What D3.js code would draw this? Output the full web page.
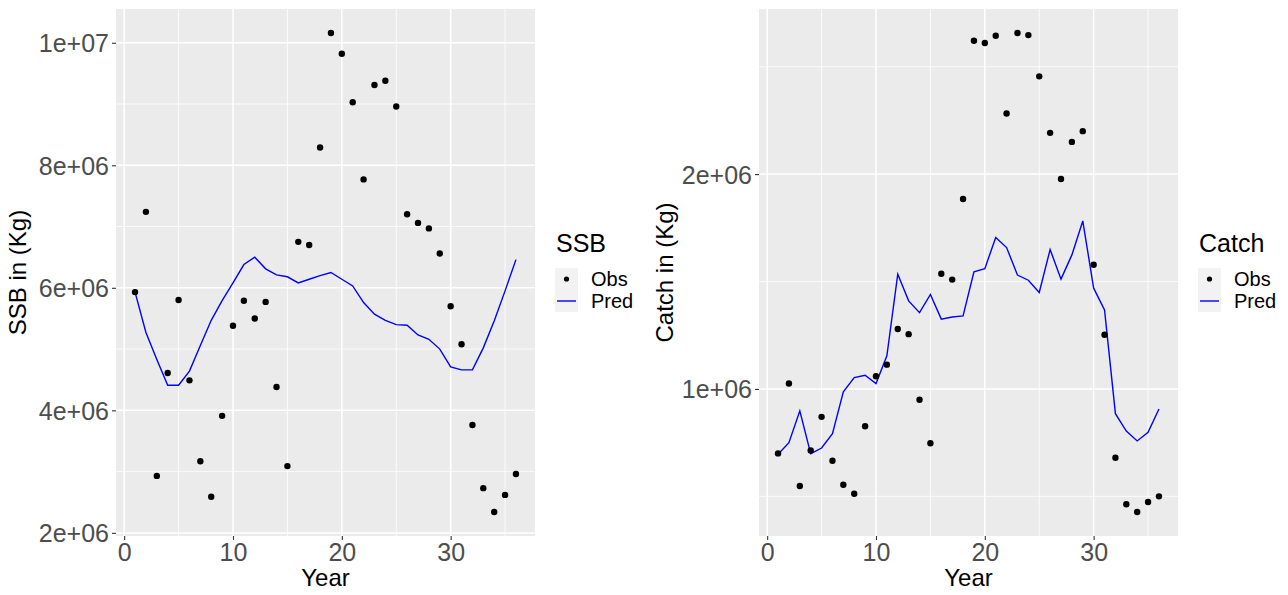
<!DOCTYPE html>
<html>
<head>
<meta charset="utf-8">
<script src="https://cdn.jsdelivr.net/npm/d3@7/dist/d3.min.js"></script>
<style>
  html, body { margin: 0; padding: 0; background: #ffffff; }
  svg { display: block; font-family: "Liberation Sans", Arial, Helvetica, sans-serif; }
</style>
</head>
<body>
<svg id="chart" width="1288" height="595"></svg>
<script>
// Years of the assessment
const years = d3.range(1, 37);

// Spawning stock biomass (kg)
const ssbObs = [5.93e6, 7.24e6, 2.93e6, 4.61e6, 5.80e6, 4.49e6, 3.17e6, 2.59e6, 3.91e6, 5.38e6,
                5.79e6, 5.50e6, 5.77e6, 4.38e6, 3.09e6, 6.75e6, 6.70e6, 8.29e6, 10.16e6, 9.82e6,
                9.03e6, 7.77e6, 9.31e6, 9.38e6, 8.96e6, 7.20e6, 7.06e6, 6.97e6, 6.56e6, 5.70e6,
                5.08e6, 3.76e6, 2.73e6, 2.34e6, 2.62e6, 2.96e6];
const ssbPred = [5.93e6, 5.27e6, 4.83e6, 4.41e6, 4.41e6, 4.64e6, 5.06e6, 5.47e6, 5.79e6, 6.08e6,
                 6.38e6, 6.50e6, 6.31e6, 6.21e6, 6.18e6, 6.08e6, 6.14e6, 6.20e6, 6.25e6, 6.14e6,
                 6.03e6, 5.76e6, 5.57e6, 5.47e6, 5.40e6, 5.39e6, 5.23e6, 5.16e6, 5.00e6, 4.71e6,
                 4.66e6, 4.66e6, 5.02e6, 5.46e6, 5.95e6, 6.46e6];

// Catch (kg)
const catchObs = [0.700e6, 1.025e6, 0.548e6, 0.714e6, 0.870e6, 0.666e6, 0.554e6, 0.512e6, 0.826e6, 1.059e6,
                  1.113e6, 1.279e6, 1.255e6, 0.950e6, 0.747e6, 1.536e6, 1.509e6, 1.884e6, 2.621e6, 2.610e6,
                  2.644e6, 2.282e6, 2.657e6, 2.647e6, 2.455e6, 2.192e6, 1.977e6, 2.150e6, 2.200e6, 1.578e6,
                  1.252e6, 0.680e6, 0.463e6, 0.427e6, 0.474e6, 0.500e6];
const catchPred = [0.696e6, 0.750e6, 0.898e6, 0.699e6, 0.725e6, 0.792e6, 0.987e6, 1.053e6, 1.064e6, 1.025e6,
                   1.154e6, 1.534e6, 1.410e6, 1.355e6, 1.440e6, 1.325e6, 1.335e6, 1.340e6, 1.545e6, 1.560e6,
                   1.705e6, 1.658e6, 1.530e6, 1.506e6, 1.449e6, 1.649e6, 1.511e6, 1.624e6, 1.782e6, 1.469e6,
                   1.368e6, 0.885e6, 0.804e6, 0.758e6, 0.798e6, 0.907e6];

// Axis breaks
const xTicks = [0, 10, 20, 30];
const xMinor = [5, 15, 25, 35];
const ssbTicks = [2e6, 4e6, 6e6, 8e6, 1e7];
const ssbMinor = [3e6, 5e6, 7e6, 9e6];
const catchTicks = [1e6, 2e6];
const catchMinor = [0.5e6, 1.5e6, 2.5e6];

const legendLabels = ["Obs", "Pred"];

const svg = d3.select("#chart");

// scientific labels in the style "8e+06"
const sci = v => d3.format(".0e")(v).replace(/e([+-])(\d)$/, "e$10$2");

// expand a range by 5% on each side
function expand(lo, hi) {
  const r = hi - lo;
  return [lo - 0.05 * r, hi + 0.05 * r];
}

function drawPanel(cfg) {
  const { left, right, top, bottom, obs, pred, yTicks, yMinor, yTitle, legendTitle,
          yTitleX, legendX } = cfg;

  const x = d3.scaleLinear()
    .domain(expand(d3.min(years), d3.max(years)))
    .range([left, right]);
  const all = obs.concat(pred);
  const y = d3.scaleLinear()
    .domain(expand(d3.min(all), d3.max(all)))
    .range([bottom, top]);

  const g = svg.append("g");

  // panel background
  g.append("rect")
    .attr("x", left).attr("y", top)
    .attr("width", right - left).attr("height", bottom - top)
    .attr("fill", "#EBEBEB");

  // minor grid
  g.selectAll(".xminor").data(xMinor).join("line")
    .attr("x1", d => x(d)).attr("x2", d => x(d))
    .attr("y1", top).attr("y2", bottom)
    .attr("stroke", "#ffffff").attr("stroke-width", 0.8);
  g.selectAll(".yminor").data(yMinor).join("line")
    .attr("y1", d => y(d)).attr("y2", d => y(d))
    .attr("x1", left).attr("x2", right)
    .attr("stroke", "#ffffff").attr("stroke-width", 0.8);

  // major grid
  g.selectAll(".xmajor").data(xTicks).join("line")
    .attr("x1", d => x(d)).attr("x2", d => x(d))
    .attr("y1", top).attr("y2", bottom)
    .attr("stroke", "#ffffff").attr("stroke-width", 1.5);
  g.selectAll(".ymajor").data(yTicks).join("line")
    .attr("y1", d => y(d)).attr("y2", d => y(d))
    .attr("x1", left).attr("x2", right)
    .attr("stroke", "#ffffff").attr("stroke-width", 1.5);

  // axes
  const xAxis = d3.axisBottom(x).tickValues(xTicks).tickSize(4).tickPadding(3);
  const yAxis = d3.axisLeft(y).tickValues(yTicks).tickFormat(sci).tickSize(4).tickPadding(3);

  const gx = g.append("g").attr("transform", `translate(0,${bottom})`).call(xAxis);
  const gy = g.append("g").attr("transform", `translate(${left},0)`).call(yAxis);
  [gx, gy].forEach(a => {
    a.select(".domain").remove();
    a.selectAll(".tick line").attr("stroke", "#333333").attr("stroke-width", 1.1);
    a.selectAll(".tick text")
      .attr("fill", "#4D4D4D")
      .style("font-size", "25px")
      .style("font-family", "'Liberation Sans', Arial, sans-serif");
  });
  gx.selectAll(".tick text").attr("dy", "0.72em");
  gy.selectAll(".tick text").attr("dy", "0.36em");

  // predicted line
  const line = d3.line().x((d, i) => x(years[i])).y(d => y(d));
  g.append("path")
    .datum(pred)
    .attr("d", line)
    .attr("fill", "none")
    .attr("stroke", "#0000FF")
    .attr("stroke-width", 1.4);

  // observed points
  g.selectAll(".obs").data(obs).join("circle")
    .attr("cx", (d, i) => x(years[i]))
    .attr("cy", d => y(d))
    .attr("r", 3.2)
    .attr("fill", "#000000");

  // axis titles
  g.append("text")
    .attr("x", (left + right) / 2).attr("y", 586)
    .attr("text-anchor", "middle")
    .style("font-size", "24px")
    .attr("fill", "#000000")
    .text("Year");
  g.append("text")
    .attr("transform", `translate(${yTitleX},${(top + bottom) / 2}) rotate(-90)`)
    .attr("text-anchor", "middle")
    .style("font-size", "24px")
    .attr("fill", "#000000")
    .text(yTitle);

  // legend
  const lg = g.append("g").attr("transform", `translate(${legendX},0)`);
  lg.append("text")
    .attr("x", 1).attr("y", 252)
    .style("font-size", "25px")
    .attr("fill", "#000000")
    .text(legendTitle);
  const keyH = 22, keyW = 23, keyTop = 268;
  lg.selectAll(".key").data(legendLabels).join("rect")
    .attr("x", 0).attr("y", (d, i) => keyTop + i * keyH)
    .attr("width", keyW).attr("height", keyH)
    .attr("fill", "#F2F2F2");
  lg.append("circle")
    .attr("cx", keyW / 2).attr("cy", keyTop + keyH / 2)
    .attr("r", 2.6).attr("fill", "#000000");
  lg.append("line")
    .attr("x1", 2).attr("x2", keyW - 2)
    .attr("y1", keyTop + keyH * 1.5).attr("y2", keyTop + keyH * 1.5)
    .attr("stroke", "#0000FF").attr("stroke-width", 1.4);
  lg.selectAll(".lab").data(legendLabels).join("text")
    .attr("x", 36)
    .attr("y", (d, i) => keyTop + i * keyH + keyH / 2)
    .attr("dy", "0.36em")
    .style("font-size", "20px")
    .attr("fill", "#000000")
    .text(d => d);
}

drawPanel({
  left: 116, right: 535, top: 9, bottom: 536,
  obs: ssbObs, pred: ssbPred,
  yTicks: ssbTicks, yMinor: ssbMinor,
  yTitle: "SSB in (Kg)", legendTitle: "SSB",
  yTitleX: 26, legendX: 555
});

drawPanel({
  left: 759, right: 1178, top: 9, bottom: 536,
  obs: catchObs, pred: catchPred,
  yTicks: catchTicks, yMinor: catchMinor,
  yTitle: "Catch in (Kg)", legendTitle: "Catch",
  yTitleX: 673, legendX: 1198
});
</script>
</body>
</html>
